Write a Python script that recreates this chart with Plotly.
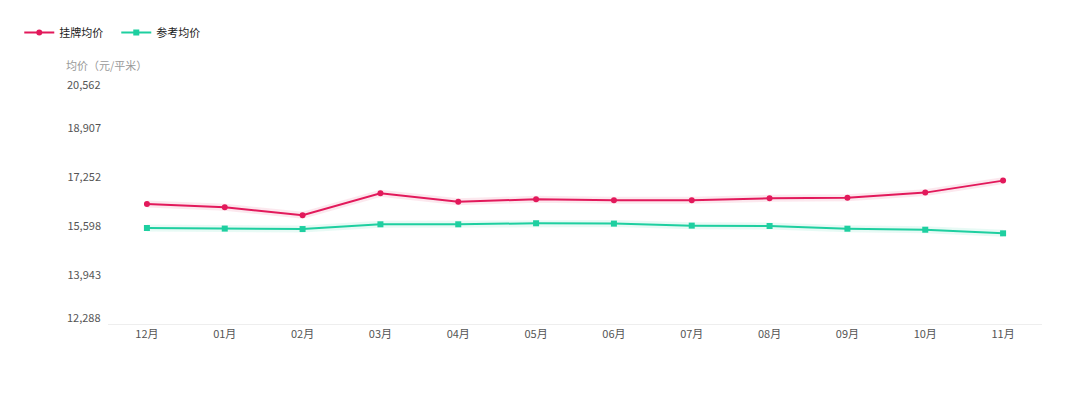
import plotly.graph_objects as go

months = ["12月", "01月", "02月", "03月", "04月", "05月", "06月", "07月", "08月", "09月", "10月", "11月"]
listing_price = [16340, 16230, 15960, 16700, 16420, 16500, 16465, 16465, 16535, 16555, 16725, 17130]
reference_price = [15530, 15510, 15495, 15655, 15655, 15690, 15678, 15610, 15598, 15506, 15472, 15350]
y_ticks = [12288, 13943, 15598, 17252, 18907, 20562]
y_tick_text = ["12,288", "13,943", "15,598", "17,252", "18,907", "20,562"]

RED = "#E2195B"
GREEN = "#1ECFA0"
FONT = "Noto Sans CJK SC"

fig = go.Figure()
fig.add_trace(go.Scatter(x=months, y=listing_price, mode="lines", showlegend=False, hoverinfo="skip",
                         line=dict(color="rgba(226,25,91,0.10)", width=7)))
fig.add_trace(go.Scatter(x=months, y=reference_price, mode="lines", showlegend=False, hoverinfo="skip",
                         line=dict(color="rgba(30,207,160,0.10)", width=7)))
fig.add_trace(go.Scatter(x=months, y=listing_price, mode="lines+markers", name="挂牌均价",
                         line=dict(color=RED, width=2), marker=dict(size=6, color=RED)))
fig.add_trace(go.Scatter(x=months, y=reference_price, mode="lines+markers", name="参考均价",
                         line=dict(color=GREEN, width=2), marker=dict(size=6, color=GREEN, symbol="square")))

# inner tick labels on the axis; outer two drawn as annotations nudged inward
inner_vals = y_ticks[1:-1]
inner_text = y_tick_text[1:-1]
annotations = [dict(text="均价（元/平米）", xref="paper", yref="paper", x=-0.047, y=1.015,
                    xanchor="left", yanchor="bottom", showarrow=False,
                    font=dict(size=11, color="#999"))]
for val, txt, shift in [(y_ticks[0], y_tick_text[0], 7), (y_ticks[-1], y_tick_text[-1], -5)]:
    annotations.append(dict(text=txt, xref="paper", yref="y", x=0, y=val, xanchor="right",
                            yanchor="middle", xshift=-5, yshift=shift, showarrow=False,
                            font=dict(size=11, color="#555")))

fig.update_layout(
    width=1080, height=403,
    margin=dict(l=100, r=46, t=71, b=87, autoexpand=False),
    paper_bgcolor="white", plot_bgcolor="white",
    font=dict(family=FONT, size=11, color="#666"),
    legend=dict(orientation="h", x=-0.095, y=1.19, xanchor="left", yanchor="middle",
                font=dict(size=11, color="#222"), itemwidth=30, tracegroupgap=0,
                entrywidth=52),
    xaxis=dict(type="category", showgrid=False, showline=True, linecolor="#eeeeee", linewidth=1,
               ticks="", tickfont=dict(size=11, color="#555"), range=[-0.5, 11.5], fixedrange=True,
               automargin=False),
    yaxis=dict(range=[12288, 20562], tickvals=inner_vals, ticktext=inner_text, showgrid=False,
               zeroline=False, showline=False, ticks="", tickfont=dict(size=11, color="#555"),
               ticklabelstandoff=6, fixedrange=True, automargin=False),
    annotations=annotations,
)

fig.write_html("out.html")
